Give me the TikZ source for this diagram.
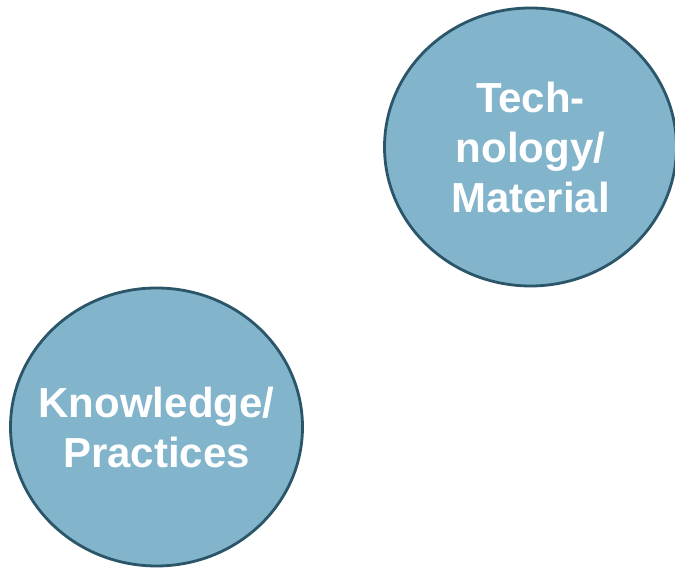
\documentclass[tikz,border=0pt]{standalone}
\usepackage{fontspec}
\setmainfont{Liberation Sans}
\usetikzlibrary{shapes.geometric}
\definecolor{bubblefill}{HTML}{82B4CB}
\definecolor{bubbleline}{HTML}{2B5669}
\newcommand{\zl}[1]{\makebox[0pt]{#1}}
\tikzset{
  bubble/.style={ellipse, draw=bubbleline, fill=bubblefill, line width=2.8pt,
    minimum width=292pt, minimum height=278pt, inner sep=0pt,
    text=white, align=center,
    font=\fontsize{42pt}{50pt}\selectfont\bfseries}
}
\begin{document}
\begin{tikzpicture}[x=1pt,y=1pt]
\useasboundingbox (0,0) rectangle (675,569);
\node[bubble] (tech) at (530.5,422) {\zl{Tech-}\\\zl{nology/}\\\zl{Material}};
\node[bubble] (know) at (156.5,142) {\zl{Knowledge/}\\\zl{Practices}};
\end{tikzpicture}
\end{document}
